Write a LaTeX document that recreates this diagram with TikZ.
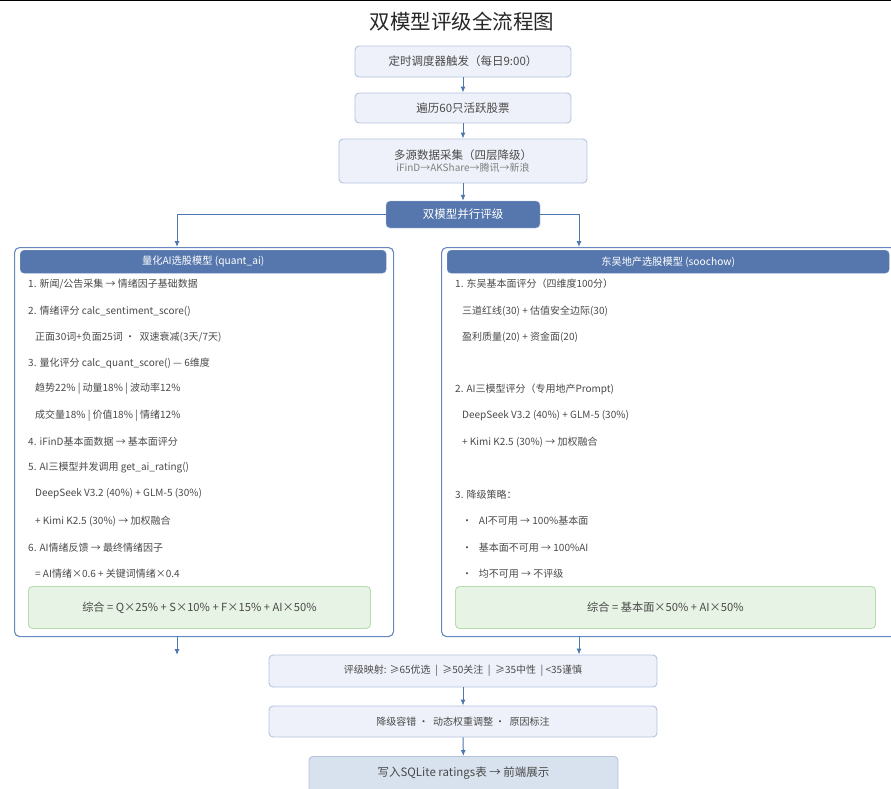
\documentclass[tikz,border=0pt]{standalone}
\usepackage{fontspec}
\setmainfont{Noto Sans CJK SC}
\usetikzlibrary{arrows.meta}
\usepackage{xcolor}
\definecolor{boxfill}{HTML}{EEF1F9}
\definecolor{boxline}{HTML}{B3C2DD}
\definecolor{darkblue}{HTML}{5677AD}
\definecolor{panelline}{HTML}{6688BE}
\definecolor{greenfill}{HTML}{E7F3E4}
\definecolor{greenline}{HTML}{B7DCB0}
\definecolor{lastfill}{HTML}{D8E1EE}
\definecolor{txt}{HTML}{4A4A4A}
\definecolor{arrowc}{HTML}{4F78B0}

\tikzset{
  stepbox/.style={draw=boxline, line width=0.9pt, fill=boxfill, rounded corners=4pt,
    text=txt, align=center, font=\fontsize{10}{12}\selectfont},
  bigtext/.style={font=\fontsize{11.5}{14}\selectfont},
  headbar/.style={draw=darkblue!80, fill=darkblue, rounded corners=4pt, text=white,
    font=\fontsize{10.2}{12}\selectfont},
  panel/.style={draw=panelline, line width=1.1pt, fill=white, rounded corners=5pt},
  sumbox/.style={draw=greenline, line width=0.9pt, fill=greenfill, rounded corners=4pt,
    text=txt, font=\fontsize{11.2}{14}\selectfont},
  item/.style={anchor=west, inner sep=0pt, text=txt, font=\fontsize{10}{12}\selectfont},
  flow/.style={draw=arrowc, line width=1pt, -{Latex[length=6pt,width=5pt]}}
}

\begin{document}
\begin{tikzpicture}[x=1pt,y=-1pt]
\useasboundingbox (0,0) rectangle (891,788);
\clip (0,0) rectangle (891,788);
\draw[black, line width=1.5pt] (0,0.5) -- (891,0.5);

% title
\node[text=black!85, font=\fontsize{20.5}{24}\selectfont] (t_title) at (462,22) {双模型评级全流程图};

% main chain
\node[stepbox, bigtext, minimum width=216pt, minimum height=31pt] (n_trigger) at (463,61.5) {定时调度器触发（每日9:00）};
\node[stepbox, bigtext, minimum width=216pt, minimum height=30pt] (n_loop) at (463,108) {遍历60只活跃股票};
\node[stepbox, bigtext, minimum width=248pt, minimum height=44pt] (n_fetch) at (463,161)
  {多源数据采集（四层降级）\\[-2pt]{\color{gray}\fontsize{10}{12}\selectfont iFinD→AKShare→腾讯→新浪}};
\node[headbar, bigtext, draw=boxline, minimum width=154pt, minimum height=27pt] (n_dual) at (463,214.5) {双模型并行评级};

\draw[flow] (n_trigger) -- (n_loop);
\draw[flow] (n_loop) -- (n_fetch);
\draw[flow] (n_fetch) -- (n_dual);

% two panels
\node[panel, anchor=north west, minimum width=379pt, minimum height=389pt] (p_quant) at (14,247) {};
\node[panel, anchor=north west, minimum width=460pt, minimum height=389pt] (p_soochow) at (441,247) {};
\coordinate (q_in) at (177,247);
\coordinate (s_in) at (579,247);
\draw[flow] (n_dual.west) -| (q_in);
\draw[flow] (n_dual.east) -| (s_in);

% left panel
\node[headbar, anchor=north west, minimum width=366pt, minimum height=23pt] (h_quant) at (20,250) {量化AI选股模型 (quant\_ai)};
\node[item] (q1) at (28,284) {1. 新闻/公告采集 → 情绪因子基础数据};
\node[item] (q2) at (28,311) {2. 情绪评分 calc\_sentiment\_score()};
\node[item] (q3) at (35,337) {正面30词+负面25词 · \ 双速衰减(3天/7天)};
\node[item] (q4) at (28,363) {3. 量化评分 calc\_quant\_score() — 6维度};
\node[item] (q5) at (35,389) {趋势22\% | 动量18\% | 波动率12\%};
\node[item] (q6) at (35,416) {成交量18\% | 价值18\% | 情绪12\%};
\node[item] (q7) at (28,442) {4. iFinD基本面数据 → 基本面评分};
\node[item] (q8) at (28,468) {5. AI三模型并发调用 get\_ai\_rating()};
\node[item] (q9) at (35,494) {DeepSeek V3.2 (40\%) + GLM-5 (30\%)};
\node[item] (q10) at (35,521) {+ Kimi K2.5 (30\%) → 加权融合};
\node[item] (q11) at (28,548) {6. AI情绪反馈 → 最终情绪因子};
\node[item] (q12) at (35,574) {= AI情绪×0.6 + 关键词情绪×0.4};
\node[sumbox, anchor=north west, minimum width=342pt, minimum height=42pt] (g_quant) at (28,586)
  {综合 = Q×25\% + S×10\% + F×15\% + AI×50\%};

% right panel
\node[headbar, anchor=north west, minimum width=442pt, minimum height=23pt] (h_soochow) at (447,250) {东吴地产选股模型 (soochow)};
\node[item] (s1) at (455,284) {1. 东吴基本面评分（四维度100分）};
\node[item] (s2) at (462,311) {三道红线(30) + 估值安全边际(30)};
\node[item] (s3) at (462,337) {盈利质量(20) + 资金面(20)};
\node[item] (s4) at (455,389) {2. AI三模型评分（专用地产Prompt)};
\node[item] (s5) at (462,416) {DeepSeek V3.2 (40\%) + GLM-5 (30\%)};
\node[item] (s6) at (462,442) {+ Kimi K2.5 (30\%) → 加权融合};
\node[item] (s7) at (455,495) {3. 降级策略：};
\node[item] (s8) at (462,521) {· \ \ AI不可用 → 100\%基本面};
\node[item] (s9) at (462,548) {· \ \ 基本面不可用 → 100\%AI};
\node[item] (s10) at (462,574) {· \ \ 均不可用 → 不评级};
\node[sumbox, anchor=north west, minimum width=420pt, minimum height=42pt] (g_soochow) at (455,586)
  {综合 = 基本面×50\% + AI×50\%};

% bottom chain
\node[stepbox, minimum width=388pt, minimum height=32pt] (n_map) at (463,671)
  {评级映射: ≥65优选 \ | \ ≥50关注 \ | \ ≥35中性 \ | <35谨慎};
\node[stepbox, minimum width=388pt, minimum height=31pt] (n_fallback) at (463,721.5)
  {降级容错 · \ 动态权重调整 · \ 原因标注};
\node[stepbox, bigtext, fill=lastfill, anchor=north, minimum width=309pt,
  inner ysep=5pt, text height=15pt, text depth=20pt] (n_store) at (463.5,756)
  {写入SQLite ratings表 → 前端展示};

\coordinate (q_out) at (177,636);
\coordinate (q_end) at (177,655);
\coordinate (s_out) at (579,636);
\draw[flow] (q_out) -- (q_end);
\draw[flow] (s_out) -- (s_out |- n_map.north);
\draw[flow] (n_map) -- (n_fallback);
\draw[flow] (n_fallback) -- (n_store);
\end{tikzpicture}
\end{document}
